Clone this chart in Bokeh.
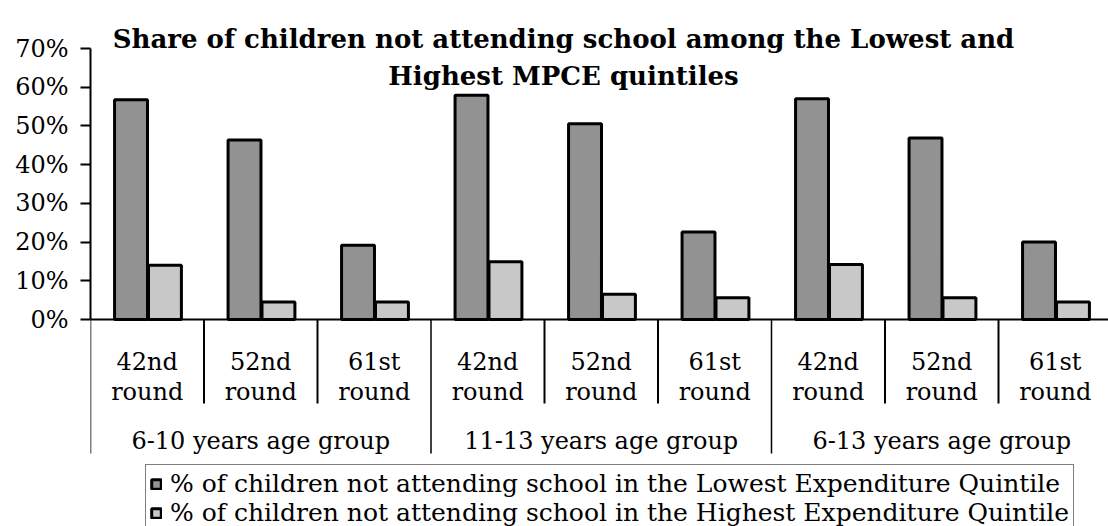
from bokeh.plotting import figure
from bokeh.models import (ColumnDataSource, Range1d, FixedTicker, PrintfTickFormatter,
                          Legend, LegendItem)
from bokeh.core.properties import value
from bokeh.embed import file_html
from bokeh.resources import INLINE
import numpy as np

# ---------------- data ----------------
groups = ["6-10 years age group", "11-13 years age group", "6-13 years age group"]
rounds = ["42nd", "52nd", "61st"]
round_word = "round"
lowest = [56.8, 46.4, 19.2, 57.9, 50.6, 22.6, 57.0, 46.9, 20.0]
highest = [14.0, 4.5, 4.5, 14.9, 6.5, 5.6, 14.2, 5.6, 4.5]
y_ticks = [0, 10, 20, 30, 40, 50, 60, 70]
title_lines = ["Share of children not attending school among the Lowest and",
               "Highest MPCE quintiles"]
series_names = ["% of children not attending school in the Lowest Expenditure Quintile",
                "% of children not attending school in the Highest Expenditure Quintile"]

# ---------------- layout constants (pixels) ----------------
W, H = 1108, 526
LEFT = 90
CAT_PX = 113.5
ZERO_PX = 319          # pixel row of 0%
PX_PER_UNIT = 3.871    # pixels per percentage point

def py(px):            # pixel row -> data y
    return (ZERO_PX - px) / PX_PER_UNIT

def px_x(px):          # pixel column -> data x
    return (px - LEFT) / CAT_PX

n = len(groups) * len(rounds)
x_end = (W - LEFT) / CAT_PX

p = figure(width=W, height=H, output_backend="svg", toolbar_location=None,
           x_range=Range1d(0, x_end), y_range=Range1d(py(H), py(0)),
           min_border_left=LEFT, min_border_right=0, min_border_top=0, min_border_bottom=0,
           x_axis_location=None)
p.outline_line_color = None
p.xgrid.visible = False
p.ygrid.visible = False
p.background_fill_color = "white"
p.border_fill_color = "white"

# y axis
ax = p.yaxis[0]
ax.bounds = (y_ticks[0], y_ticks[-1])
ax.ticker = FixedTicker(ticks=y_ticks)
ax.formatter = PrintfTickFormatter(format="%d%%")
ax.minor_tick_line_color = None
ax.major_tick_in = 0
ax.major_tick_out = 10
ax.major_tick_line_width = 2
ax.axis_line_width = 2
ax.axis_line_color = "black"
ax.major_label_standoff = 12
ax.major_label_text_font = "DejaVu Serif"
ax.major_label_text_font_style = "normal"
ax.major_label_text_font_size = "24px"
ax.major_label_text_color = "black"

# bars
idx = np.arange(n)
src = ColumnDataSource(dict(xl=idx + 0.357, xh=idx + 0.656, low=lowest, high=highest))
bw = 0.29
r_low = p.vbar(x="xl", top="low", bottom=0, width=bw, source=src,
               fill_color="#929292", line_color="black", line_width=3)
r_high = p.vbar(x="xh", top="high", bottom=0, width=bw, source=src,
                fill_color="#c8c8c8", line_color="black", line_width=3)

# baseline
p.segment(x0=[0], y0=[0], x1=[x_end], y1=[0], line_color="black", line_width=2)

# separators
b = np.arange(n + 1)
is_group = (b % len(rounds)) == 0
p.segment(x0=b[~is_group], x1=b[~is_group], y0=0, y1=py(403),
          line_color="black", line_width=2)
p.segment(x0=b[is_group], x1=b[is_group], y0=0, y1=py(453),
          line_color="black", line_width=1.5)

# category labels
centers = idx + 0.5
round_labels = [rounds[i % len(rounds)] for i in range(n)]
font = value("DejaVu Serif")
p.text(x=centers, y=py(361), text=round_labels, text_font=font, text_font_size="24px",
       text_align="center", text_baseline="alphabetic", text_color="black")
p.text(x=centers, y=py(391), text=[round_word] * n, text_font=font, text_font_size="24px",
       text_align="center", text_baseline="alphabetic", text_color="black")
gcent = np.arange(len(groups)) * len(rounds) + len(rounds) / 2
p.text(x=gcent, y=py(440), text=groups, text_font=font, text_font_size="24px",
       text_align="center", text_baseline="alphabetic", text_color="black")

# title
tx = px_x(563)
p.text(x=[tx, tx], y=[py(38), py(75)], text=title_lines,
       text_font=value("DejaVu Serif"), text_font_style="bold", text_font_size="26px",
       text_align="center", text_baseline="alphabetic", text_color="black")

# legend
legend = Legend(items=[LegendItem(label=series_names[0], renderers=[r_low]),
                       LegendItem(label=series_names[1], renderers=[r_high])],
                location=(55, -6), orientation="vertical",
                glyph_width=12, glyph_height=12, label_height=25, spacing=0,
                padding=4, margin=0, label_standoff=8,
                label_text_font="DejaVu Serif", label_text_font_size="25px",
                label_text_color="black", label_text_line_height=1.0,
                border_line_color="black", border_line_width=1.5,
                background_fill_color="white", background_fill_alpha=1.0)
p.add_layout(legend)

open("out.html", "w").write(file_html(p, INLINE))
